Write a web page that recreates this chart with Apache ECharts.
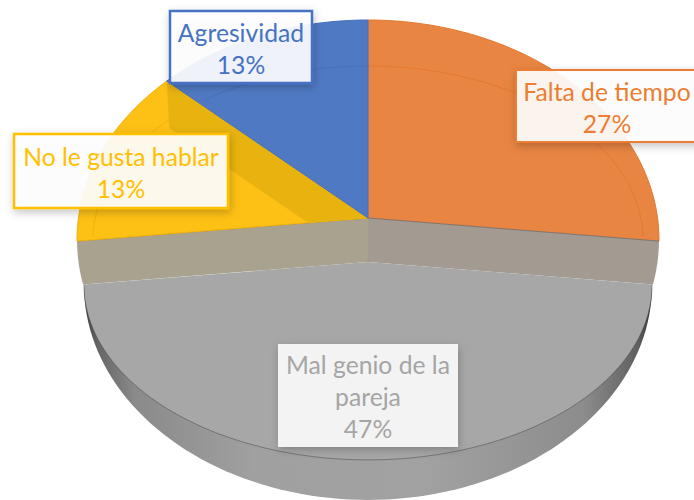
<!DOCTYPE html>
<html>
<head>
<meta charset="utf-8">
<title>Pie</title>
<script src="https://cdn.jsdelivr.net/npm/echarts@6/dist/echarts.min.js"></script>
<style>
  html, body { margin: 0; padding: 0; background: #fff; }
  #main { width: 694px; height: 500px; }
  #main text { font-variant-ligatures: none; }
</style>
</head>
<body>
<div id="main"></div>
<script>
// data, clockwise from 12 o'clock
const categories = ["Falta de tiempo", "Mal genio de la pareja", "No le gusta hablar", "Agresividad"];
const counts = [4, 7, 2, 2];

// one label line per row, the percent row is added later
const labelLines = [["Falta de tiempo"], ["Mal genio de la", "pareja"], ["No le gusta hablar"], ["Agresividad"]];

const colors = ["#E98542", "#A7A7A7", "#FDC015", "#4F7AC3"];
const textColors = ["#ED7D31", "#A5A5A5", "#FFC000", "#4472C4"];
const ringColors = ["#E4782E", null, "#F2B20A", "#4570BC"];
// [x, y, width, height] px
const labelBoxes = [[516, 70, 186, 72], [278, 344, 180, 103], [14, 134, 214, 74], [170, 11, 142, 72]];

const total = counts.reduce((a, b) => a + b, 0);
const PULLED = 1; // the slice at the front

// everything below is in axis units, the unit circle fills the grid
const back = { ay: 0.1, cy: 0, rx: 1, ry: 1 };
const front = { ay: -0.1, cy: -0.2045, rx: 0.976, ry: 0.795 };
const wallRy = 0.977;
const ring = { rx: 0.945, ry: 0.791 };

// where a ray from the apex hits the ellipse
function rim(e, deg) {
  const a = deg * Math.PI / 180;
  const dx = Math.sin(a), dy = Math.cos(a);
  const oy = e.ay - e.cy;
  const A = dx * dx / (e.rx * e.rx) + dy * dy / (e.ry * e.ry);
  const B = 2 * oy * dy / (e.ry * e.ry);
  const C = oy * oy / (e.ry * e.ry) - 1;
  const t = (-B + Math.sqrt(B * B - 4 * A * C)) / (2 * A);
  return [t * dx, e.ay + t * dy];
}

function arc(e, from, to) {
  const pts = [];
  const n = Math.ceil(Math.abs(to - from));
  for (let i = 0; i <= n; i++) pts.push(rim(e, from + (to - from) * i / n));
  return pts;
}

function renderSlice(params, api) {
  const i = params.dataIndex;
  const from = api.value(0) / total * 360;
  const to = api.value(1) / total * 360;
  const toPx = (list) => list.map((p) => api.coord(p));
  const kids = [];

  if (i === PULLED) {
    // side wall, then the two grey bands and the top
    const wall = [];
    for (let d = 90; d <= 270; d += 2) {
      const a = d * Math.PI / 180;
      wall.push([front.rx * Math.sin(a), front.cy + wallRy * Math.cos(a)]);
    }
    kids.push({
      type: "polygon",
      shape: { points: toPx(wall) },
      style: {
        fill: new echarts.graphic.LinearGradient(0, 0, 1, 0, [
          { offset: 0, color: "#3c3c3c" },
          { offset: 0.025, color: "#666666" },
          { offset: 0.09, color: "#8a8a8a" },
          { offset: 0.3, color: "#a0a0a0" },
          { offset: 0.6, color: "#a2a2a2" },
          { offset: 0.88, color: "#8c8c8c" },
          { offset: 0.975, color: "#606060" },
          { offset: 1, color: "#333333" }
        ])
      }
    });

    const side = (deg, sign) => {
      const a = rim(back, deg), b = rim(front, deg);
      const pts = [];
      for (let k = 0; k <= 6; k++) {
        const y = a[1] + (b[1] - a[1]) * k / 6;
        pts.push([sign * Math.sqrt(1 - y * y), y]);
      }
      return pts;
    };
    kids.push({
      type: "polygon",
      shape: { points: toPx([[0, back.ay]].concat(side(from, 1), [[0, front.ay]])) },
      style: { fill: "#A39A92" }
    });
    kids.push({
      type: "polygon",
      shape: { points: toPx([[0, back.ay]].concat(side(to, -1), [[0, front.ay]])) },
      style: { fill: "#A8A28F" }
    });

    kids.push({
      type: "polygon",
      shape: { points: toPx([[0, front.ay]].concat(arc(front, from, to))) },
      style: { fill: colors[i] }
    });
    kids.push({
      type: "polyline",
      shape: { points: toPx(arc(front, from, to)) },
      style: { fill: "none", stroke: "rgba(70,70,70,0.5)", lineWidth: 1 }
    });
    kids.push({
      type: "polyline",
      shape: { points: toPx([rim(back, from), [0, back.ay], rim(back, to)]) },
      style: { fill: "none", stroke: "rgba(110,110,110,0.75)", lineWidth: 1 }
    });
    return { type: "group", children: kids };
  }

  const edge = arc(back, from, to);
  kids.push({
    type: "polygon",
    shape: { points: toPx([[0, back.ay]].concat(edge)) },
    style: { fill: colors[i], stroke: ringColors[i], lineWidth: 1 }
  });

  // faint bevel line inside the rim, kept to the upper half of this slice
  const bevel = [];
  for (let d = 0; d <= 360; d += 1) {
    const a = d * Math.PI / 180;
    const p = [ring.rx * Math.sin(a), ring.ry * Math.cos(a)];
    let seen = Math.atan2(p[0], p[1] - back.ay) * 180 / Math.PI;
    if (seen < 0) seen += 360;
    if (p[1] >= 0 && seen >= from && seen <= to) bevel.push(p);
  }
  kids.push({
    type: "polyline",
    shape: { points: toPx(bevel) },
    style: { fill: "none", stroke: ringColors[i], lineWidth: 1 }
  });
  if (categories[i] === "No le gusta hablar") {
    // darker wall along the edge with Agresividad
    const A = [0, back.ay], P = rim(back, to), L = rim(back, from);
    const Q = [A[0] + (L[0] - A[0]) * 0.206, A[1] + (L[1] - A[1]) * 0.206];
    const R = [Q[0] + (P[0] - A[0]) * 0.69, Q[1] + (P[1] - A[1]) * 0.69];
    kids.push({
      type: "polygon",
      shape: { points: toPx([A, Q, R, P]) },
      style: { fill: "#E8B30F" }
    });
  }
  return { type: "group", children: kids };
}

function renderLabel(params, api) {
  const i = params.dataIndex;
  const box = labelBoxes[i];
  const pct = Math.round(counts[i] / total * 100) + "%";
  const lines = labelLines[i].concat(pct);
  const isFront = i === PULLED;
  return {
    type: "group",
    children: [
      {
        type: "rect",
        shape: { x: box[0], y: box[1], width: box[2], height: box[3] },
        style: {
          fill: isFront ? "rgba(255,255,255,0.87)" : "rgba(255,255,255,0.9)",
          stroke: isFront ? null : textColors[i],
          lineWidth: i === 0 ? 2 : 2.5,
          shadowBlur: 8,
          shadowOffsetX: 1,
          shadowOffsetY: 3,
          shadowColor: "rgba(0,0,0,0.25)"
        }
      },
      {
        type: "text",
        style: {
          x: box[0] + box[2] / 2 - (i === 0 ? 2 : 0),
          y: box[1] + box[3] / 2 + 1,
          text: lines.join("\n"),
          fill: textColors[i],
          font: "24.7px Lato",
          lineHeight: 32,
          align: "center",
          verticalAlign: "middle"
        }
      }
    ]
  };
}

// [start, end] in running count
const sliceData = [];
let running = 0;
for (let i = 0; i < counts.length; i++) {
  sliceData.push({ name: categories[i], value: [running, running + counts[i]] });
  running += counts[i];
}

const myChart = echarts.init(document.getElementById("main"), null, { renderer: "svg" });
myChart.setOption({
  backgroundColor: "#ffffff",
  animation: false,
  textStyle: { fontFamily: "Lato" },
  grid: { left: 77, top: 20, width: 582, height: 440 },
  xAxis: { type: "value", min: -1, max: 1, show: false },
  yAxis: { type: "value", min: -1, max: 1, show: false },
  series: [
    {
      type: "custom",
      name: "slices",
      coordinateSystem: "cartesian2d",
      renderItem: renderSlice,
      clip: false,
      data: sliceData,
      z: 2
    },
    {
      type: "custom",
      name: "labels",
      coordinateSystem: "cartesian2d",
      renderItem: renderLabel,
      clip: false,
      data: sliceData,
      z: 3
    }
  ]
});
</script>
</body>
</html>
